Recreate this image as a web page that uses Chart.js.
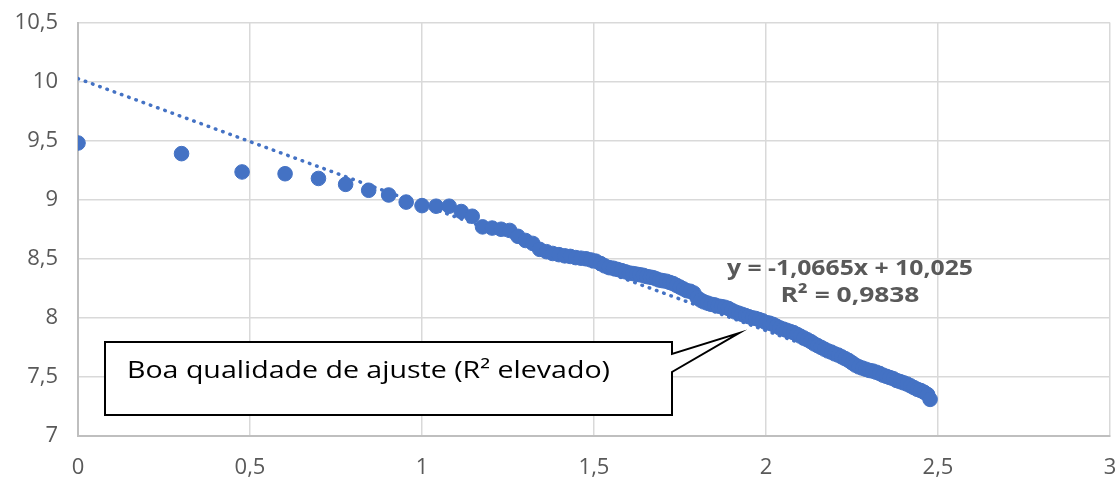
<!DOCTYPE html>
<html>
<head>
<meta charset="utf-8">
<script src="https://cdn.jsdelivr.net/npm/chart.js@4.4.0/dist/chart.umd.min.js"></script>
<style>
  html, body { margin: 0; padding: 0; background: #ffffff; }
  #wrap { width: 1120px; height: 478px; }
</style>
</head>
<body>
<div id="wrap"><canvas id="chart" width="1120" height="478"></canvas></div>
<script>
// log10 of rank
const logRank = [
  0, 0.301, 0.477, 0.602, 0.699, 0.778, 0.845, 0.903, 0.954, 1.000,
  1.041, 1.079, 1.114, 1.146, 1.176, 1.204, 1.230, 1.255, 1.279, 1.301,
  1.322, 1.342, 1.362, 1.380, 1.398, 1.415, 1.431, 1.447, 1.462, 1.477,
  1.491, 1.505, 1.519, 1.531, 1.544, 1.556, 1.568, 1.580, 1.591, 1.602,
  1.613, 1.623, 1.633, 1.643, 1.653, 1.663, 1.672, 1.681, 1.690, 1.699,
  1.71, 1.72, 1.73, 1.74, 1.75, 1.76, 1.77, 1.78, 1.79, 1.80,
  1.81, 1.82, 1.83, 1.84, 1.85, 1.86, 1.87, 1.88, 1.89, 1.90,
  1.91, 1.92, 1.93, 1.94, 1.95, 1.96, 1.97, 1.98, 1.99, 2.00,
  2.01, 2.02, 2.03, 2.04, 2.05, 2.06, 2.07, 2.08, 2.09, 2.10,
  2.11, 2.12, 2.13, 2.14, 2.15, 2.16, 2.17, 2.18, 2.19, 2.20,
  2.21, 2.22, 2.23, 2.24, 2.25, 2.26, 2.27, 2.28, 2.29, 2.30,
  2.31, 2.32, 2.33, 2.34, 2.35, 2.36, 2.37, 2.38, 2.39, 2.40,
  2.41, 2.42, 2.43, 2.44, 2.45, 2.46, 2.47, 2.477
];

// log10 of value, same order as logRank
const logValue = [
  9.48, 9.39, 9.235, 9.22, 9.18, 9.13, 9.08, 9.04, 8.98, 8.95,
  8.945, 8.945, 8.90, 8.86, 8.77, 8.76, 8.75, 8.74, 8.69, 8.655,
  8.63, 8.58, 8.56, 8.545, 8.535, 8.525, 8.52, 8.51, 8.505, 8.50,
  8.49, 8.48, 8.46, 8.44, 8.425, 8.42, 8.41, 8.40, 8.39, 8.38,
  8.375, 8.37, 8.365, 8.36, 8.35, 8.345, 8.34, 8.33, 8.32, 8.315,
  8.31, 8.30, 8.29, 8.275, 8.26, 8.245, 8.23, 8.225, 8.21, 8.17,
  8.15, 8.135, 8.125, 8.115, 8.11, 8.10, 8.095, 8.09, 8.08, 8.065,
  8.05, 8.04, 8.03, 8.02, 8.01, 8.00, 7.995, 7.985, 7.975, 7.96,
  7.955, 7.945, 7.93, 7.915, 7.905, 7.895, 7.885, 7.875, 7.86, 7.845,
  7.83, 7.815, 7.80, 7.78, 7.765, 7.75, 7.735, 7.72, 7.71, 7.695,
  7.685, 7.67, 7.655, 7.64, 7.62, 7.60, 7.585, 7.575, 7.565, 7.555,
  7.55, 7.54, 7.53, 7.515, 7.505, 7.495, 7.485, 7.47, 7.46, 7.45,
  7.44, 7.425, 7.41, 7.395, 7.385, 7.37, 7.35, 7.31
];

// linear fit shown on the chart
const trendSlope = -1.0665;
const trendIntercept = 10.025;
const trendR2 = 0.9838;

const xTickValues = [0, 0.5, 1, 1.5, 2, 2.5, 3];
const yTickValues = [7, 7.5, 8, 8.5, 9, 9.5, 10, 10.5];

const calloutText = 'Boa qualidade de ajuste (R\u00B2 elevado)';

const BLUE = '#4472C4';
const TEXT = '#595959';
const FONT = "'Open Sans', 'Noto Sans', sans-serif";

const fmt = v => String(v).replace('.', ',');

const points = logRank.map((x, i) => ({ x: x, y: logValue[i] }));
const xMin = Math.min(...logRank), xMax = Math.max(...logRank);
const trendPoints = [
  { x: xMin, y: trendSlope * xMin + trendIntercept },
  { x: xMax, y: trendSlope * xMax + trendIntercept }
];
const eqLabel = 'y = ' + fmt(trendSlope) + 'x + ' + fmt(trendIntercept);
const r2Label = 'R\u00B2 = ' + fmt(trendR2);

// draws text stretched horizontally to a given width (wide typeface look)
function wideText(ctx, text, x, y, width, align) {
  const w = ctx.measureText(text).width;
  const k = width / w;
  let left = x;
  if (align === 'center') left = x - width / 2;
  ctx.save();
  ctx.textAlign = 'left';
  ctx.translate(left, y);
  ctx.scale(k, 1);
  ctx.fillText(text, 0, 0);
  ctx.restore();
}

// keep the plot area fixed: no extra room for overhanging end labels
function noOverhang(s) {
  s.paddingTop = 0;
  s.paddingBottom = 0;
  s.paddingLeft = 0;
  s.paddingRight = 0;
}

// equation labels and callout box drawn on top of the plot
const overlay = {
  id: 'overlay',
  afterDraw(chart) {
    const ctx = chart.ctx;
    const sx = chart.scales.x, sy = chart.scales.y;
    ctx.save();

    // trendline equation
    ctx.fillStyle = TEXT;
    ctx.font = "bold 22px " + FONT;
    ctx.textBaseline = 'middle';
    const cx = sx.getPixelForValue(2.244);
    wideText(ctx, eqLabel, cx, sy.getPixelForValue(8.42), 246, 'center');
    wideText(ctx, r2Label, cx, sy.getPixelForValue(8.185), 139, 'center');

    // callout with pointer
    const L = 105, R = 672, T = 342, B = 415;
    const tipX = 739, tipY = 333, n1 = 354, n2 = 372;
    ctx.beginPath();
    ctx.moveTo(L, T);
    ctx.lineTo(R, T);
    ctx.lineTo(R, n1);
    ctx.lineTo(tipX, tipY);
    ctx.lineTo(R, n2);
    ctx.lineTo(R, B);
    ctx.lineTo(L, B);
    ctx.closePath();
    ctx.fillStyle = '#ffffff';
    ctx.fill();
    ctx.lineWidth = 2;
    ctx.strokeStyle = '#000000';
    ctx.lineJoin = 'miter';
    ctx.stroke();

    ctx.fillStyle = '#000000';
    ctx.font = "23px " + FONT;
    ctx.textBaseline = 'alphabetic';
    wideText(ctx, calloutText, 127, 378, 483, 'left');

    ctx.restore();
  }
};

new Chart(document.getElementById('chart'), {
  type: 'scatter',
  data: {
    datasets: [
      {
        label: 'dados',
        data: points,
        backgroundColor: BLUE,
        borderColor: BLUE,
        borderWidth: 1,
        pointRadius: 7.3,
        pointHoverRadius: 7.3,
        order: 0
      },
      {
        type: 'line',
        label: 'tendência',
        data: trendPoints,
        borderColor: BLUE,
        borderWidth: 3.5,
        borderDash: [0.5, 7.2],
        borderCapStyle: 'round',
        pointRadius: 0,
        fill: false,
        order: 1
      }
    ]
  },
  options: {
    responsive: false,
    animation: false,
    events: [],
    layout: { padding: { top: 22.5, right: 10, left: 0, bottom: 0 } },
    plugins: {
      legend: { display: false },
      tooltip: { enabled: false },
      title: { display: false }
    },
    scales: {
      x: {
        type: 'linear',
        min: xTickValues[0],
        max: xTickValues[xTickValues.length - 1],
        afterBuildTicks: s => { s.ticks = xTickValues.map(v => ({ value: v })); },
        afterFit: s => { s.height = 42; noOverhang(s); },
        ticks: {
          callback: v => fmt(v),
          color: TEXT,
          font: { family: FONT, size: 22 },
          padding: 19,
          maxRotation: 0
        },
        grid: { color: '#d9d9d9', lineWidth: 1.5, drawTicks: false },
        border: { color: '#bfbfbf', width: 2 }
      },
      y: {
        type: 'linear',
        min: yTickValues[0],
        max: yTickValues[yTickValues.length - 1],
        afterBuildTicks: s => { s.ticks = yTickValues.map(v => ({ value: v })); },
        afterFit: s => { s.width = 78; noOverhang(s); },
        ticks: {
          callback: v => fmt(v),
          color: TEXT,
          font: { family: FONT, size: 22 },
          padding: 20
        },
        grid: { color: '#d9d9d9', lineWidth: 1.5, drawTicks: false },
        border: { color: '#bfbfbf', width: 2 }
      }
    }
  },
  plugins: [overlay]
});
</script>
</body>
</html>
